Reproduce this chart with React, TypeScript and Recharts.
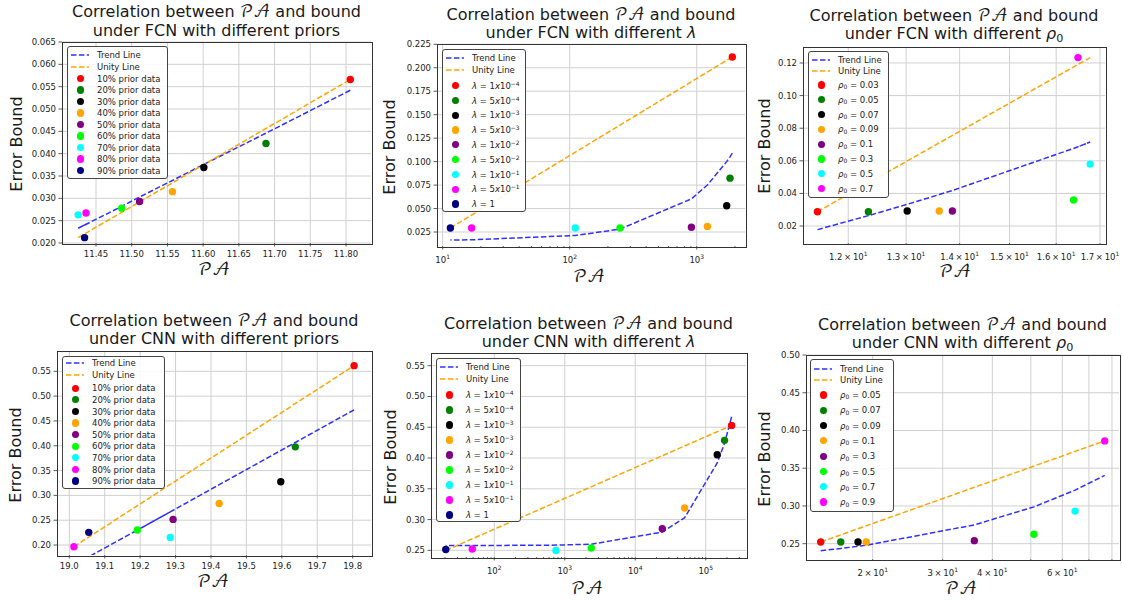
import React from "react";
import { CartesianGrid, ComposedChart, Line, Scatter, XAxis, YAxis } from "recharts";

const FONT = "'DejaVu Sans', Verdana, sans-serif";
const MATH = "'DejaVu Math TeX Gyre', 'DejaVu Serif', serif";
const INK = "#222";

const MARKER_COLORS = ["#ff0000", "#008000", "#000000", "#ffa500", "#800080", "#00ff00", "#00ffff", "#ff00ff", "#000080"];
const TREND_COLOR = "#3030ff";
const UNITY_COLOR = "#ffa500";

// legend categories
const PRIORS = [10, 20, 30, 40, 50, 60, 70, 80, 90];
const LAMBDA_MANT = [1, 5, 1, 5, 1, 5, 1, 5, 1];
const LAMBDA_EXP = [-4, -4, -3, -3, -2, -2, -1, -1, 0];
const RHO_FCN = ["0.03", "0.05", "0.07", "0.09", "0.1", "0.3", "0.5", "0.7"];
const RHO_CNN = ["0.05", "0.07", "0.09", "0.1", "0.3", "0.5", "0.7", "0.9"];

// FCN, different priors
const FCN_PRIOR_PA = [11.806, 11.688, 11.601, 11.557, 11.511, 11.486, 11.425, 11.436, 11.434];
const FCN_PRIOR_BOUND = [0.0566, 0.0423, 0.0369, 0.0315, 0.0293, 0.0278, 0.0263, 0.0267, 0.0212];
const FCN_PRIOR_TREND = [0.0542, 0.0446, 0.0376, 0.034, 0.0303, 0.0282, 0.0233, 0.0242, 0.024];

// FCN, different lambda
const FCN_LAMBDA_PA = [1906, 1828, 1722, 1213, 908, 249, 110.7, 16.9, 11.5];
const FCN_LAMBDA_BOUND = [0.2115, 0.0824, 0.053, 0.031, 0.03, 0.0293, 0.0293, 0.0293, 0.0293];
const FCN_LAMBDA_TREND = [0.109, 0.1051, 0.1, 0.0751, 0.0603, 0.0281, 0.0213, 0.0167, 0.0165];

// FCN, different rho0
const FCN_RHO_PA = [11.5, 12.34, 13.02, 13.61, 13.86, 16.39, 16.77, 16.49];
const FCN_RHO_BOUND = [0.0288, 0.0288, 0.0292, 0.0292, 0.0292, 0.036, 0.058, 0.1233];
const FCN_RHO_TREND = [0.0178, 0.0264, 0.0333, 0.0393, 0.0418, 0.0676, 0.0715, 0.0686];

// CNN, different priors
const CNN_PRIOR_PA = [19.804, 19.638, 19.597, 19.423, 19.293, 19.192, 19.285, 19.013, 19.055];
const CNN_PRIOR_BOUND = [0.5614, 0.3978, 0.3274, 0.2838, 0.2516, 0.2302, 0.2154, 0.1966, 0.2255];
const CNN_PRIOR_TREND = [0.4724, 0.4066, 0.3904, 0.3215, 0.27, 0.23, 0.2668, 0.1597, 0.1763];

// CNN, different lambda
const CNN_LAMBDA_PA = [233000, 185000, 145600, 50200, 24200, 2377, 750, 48.8, 20.5];
const CNN_LAMBDA_BOUND = [0.453, 0.4287, 0.4054, 0.3187, 0.2851, 0.2537, 0.2499, 0.2521, 0.2515];
const CNN_LAMBDA_TREND = [0.467, 0.424, 0.392, 0.303, 0.2797, 0.26, 0.2585, 0.2578, 0.2578];

// CNN, different rho0
const CNN_RHO_PA = [14.8, 16.62, 18.37, 19.27, 36.04, 50.9, 64.6, 76.7];
const CNN_RHO_BOUND = [0.2522, 0.2522, 0.2522, 0.2522, 0.254, 0.2624, 0.2932, 0.3862];
const CNN_RHO_TREND = [0.2407, 0.2436, 0.2465, 0.2479, 0.2749, 0.2988, 0.3209, 0.3404];

// ticks
const TICKS_FCN_PRIOR_X = [11.45, 11.5, 11.55, 11.6, 11.65, 11.7, 11.75, 11.8];
const TICKS_FCN_PRIOR_Y = [0.02, 0.025, 0.03, 0.035, 0.04, 0.045, 0.05, 0.055, 0.06, 0.065];
const TICKS_FCN_LAMBDA_X = [10, 20, 30, 40, 50, 60, 70, 80, 90, 100, 200, 300, 400, 500, 600, 700, 800, 900, 1000, 2000];
const TICKS_FCN_LAMBDA_Y = [0.025, 0.05, 0.075, 0.1, 0.125, 0.15, 0.175, 0.2, 0.225];
const TICKS_FCN_RHO_X = [12, 13, 14, 15, 16, 17];
const TICKS_FCN_RHO_Y = [0.02, 0.04, 0.06, 0.08, 0.1, 0.12];
const TICKS_CNN_PRIOR_X = [19.0, 19.1, 19.2, 19.3, 19.4, 19.5, 19.6, 19.7, 19.8];
const TICKS_CNN_PRIOR_Y = [0.2, 0.25, 0.3, 0.35, 0.4, 0.45, 0.5, 0.55];
const TICKS_CNN_LAMBDA_X = [
  20, 30, 40, 50, 60, 70, 80, 90, 100, 200, 300, 400, 500, 600, 700, 800, 900, 1000, 2000, 3000, 4000, 5000,
  6000, 7000, 8000, 9000, 10000, 20000, 30000, 40000, 50000, 60000, 70000, 80000, 90000, 100000, 200000, 300000,
];
const TICKS_CNN_LAMBDA_Y = [0.25, 0.3, 0.35, 0.4, 0.45, 0.5, 0.55];
const TICKS_CNN_RHO_X = [20, 30, 40, 50, 60, 70, 80];
const TICKS_CNN_RHO_Y = [0.25, 0.3, 0.35, 0.4, 0.45, 0.5];

type Lab = { base: string; sup?: string; len: number } | null;

const isDecade = (v: number) => Math.abs(Math.log10(v) - Math.round(Math.log10(v))) < 1e-9;
const decadeLabel = (v: number): Lab =>
  isDecade(v) ? { base: "10", sup: String(Math.round(Math.log10(v))), len: 3.5 } : null;
const fixed = (d: number) => (v: number): Lab => ({ base: v.toFixed(d), len: 3.5 });
const sciLabel = (shown: number[]) => (v: number): Lab =>
  shown.includes(v)
    ? { base: `${v % 10 === 0 ? v / 10 : (v / 10).toFixed(1)}\u2009×\u200910`, sup: "1", len: 2 }
    : null;

const Sup = ({ children }: { children: React.ReactNode }) => (
  <span style={{ fontSize: "0.7em", position: "relative", top: "-0.5em" }}>{children}</span>
);
const Sub = ({ children }: { children: React.ReactNode }) => (
  <span style={{ fontSize: "0.7em", position: "relative", top: "0.25em" }}>{children}</span>
);
const PA = () => <span style={{ fontFamily: MATH }}>𝒫𝒜</span>;
const Lam = () => <i>λ</i>;
const Rho = () => (
  <>
    <i>ρ</i>
    <Sub>0</Sub>
  </>
);

const priorLabels = PRIORS.map((p) => `${p}% prior data`);
const lambdaLabels = LAMBDA_MANT.map((m, i) =>
  LAMBDA_EXP[i] === 0 ? (
    <>
      <Lam /> = 1
    </>
  ) : (
    <>
      <Lam /> = {m}
      <i>x</i>10<Sup>−{-LAMBDA_EXP[i]}</Sup>
    </>
  )
);
const rhoLabels = (vals: string[]) =>
  vals.map((v) => (
    <>
      <Rho /> = {v}
    </>
  ));

type PanelDef = {
  plot: [number, number, number, number];
  titleTop: number;
  line2: React.ReactNode;
  yLabel: [number, number];
  xLabel: [number, number];
  log: boolean;
  xDomain: [number, number];
  yDomain: [number, number];
  xTicks: number[];
  xFmt: (v: number) => Lab;
  gridX: number[];
  yTicks: number[];
  yDigits: number;
  pa: number[];
  bound: number[];
  trend: number[];
  labels: React.ReactNode[];
  legend: { box: [number, number, number, number]; lineRows: [number, number]; first: number; step: number };
};

const PANELS: PanelDef[] = [
  {
    plot: [62, 42, 309, 201],
    titleTop: 3,
    line2: "under FCN with different priors",
    yLabel: [15.7, 144],
    xLabel: [214, 271],
    log: false,
    xDomain: [11.4024, 11.835],
    yDomain: [0.02, 0.065],
    xTicks: TICKS_FCN_PRIOR_X,
    xFmt: fixed(2),
    gridX: TICKS_FCN_PRIOR_X,
    yTicks: TICKS_FCN_PRIOR_Y,
    yDigits: 3,
    pa: FCN_PRIOR_PA,
    bound: FCN_PRIOR_BOUND,
    trend: FCN_PRIOR_TREND,
    labels: priorLabels,
    legend: { box: [67, 46, 101, 133], lineRows: [7.6, 19.6], first: 31.6, step: 11.5 },
  },
  {
    plot: [437, 44, 308, 202],
    titleTop: 5.8,
    line2: (
      <>
        under FCN with different <Lam />
      </>
    ),
    yLabel: [389, 146.7],
    xLabel: [589, 278],
    log: true,
    xDomain: [9.02, 2399],
    yDomain: [0.0101, 0.2253],
    xTicks: TICKS_FCN_LAMBDA_X,
    xFmt: decadeLabel,
    gridX: TICKS_FCN_LAMBDA_X.filter(isDecade),
    yTicks: TICKS_FCN_LAMBDA_Y,
    yDigits: 3,
    pa: FCN_LAMBDA_PA,
    bound: FCN_LAMBDA_BOUND,
    trend: FCN_LAMBDA_TREND,
    labels: lambdaLabels,
    legend: { box: [442, 49, 84, 162.5], lineRows: [7.7, 20.3], first: 35.7, step: 14.8 },
  },
  {
    plot: [803, 47, 302, 196],
    titleTop: 6.5,
    line2: (
      <>
        under FCN with different <Rho />
      </>
    ),
    yLabel: [763.7, 145.7],
    xLabel: [955, 273],
    log: true,
    xDomain: [11.272, 17.118],
    yDomain: [0.0096, 0.1298],
    xTicks: TICKS_FCN_RHO_X,
    xFmt: sciLabel(TICKS_FCN_RHO_X),
    gridX: TICKS_FCN_RHO_X,
    yTicks: TICKS_FCN_RHO_Y,
    yDigits: 2,
    pa: FCN_RHO_PA,
    bound: FCN_RHO_BOUND,
    trend: FCN_RHO_TREND,
    labels: rhoLabels(RHO_FCN),
    legend: { box: [808, 51, 81, 147], lineRows: [8, 19], first: 33, step: 14.8 },
  },
  {
    plot: [57, 351, 314, 204],
    titleTop: 311.5,
    line2: "under CNN with different priors",
    yLabel: [15, 455],
    xLabel: [213, 583],
    log: false,
    xDomain: [18.9653, 19.8517],
    yDomain: [0.1799, 0.5909],
    xTicks: TICKS_CNN_PRIOR_X,
    xFmt: fixed(1),
    gridX: TICKS_CNN_PRIOR_X,
    yTicks: TICKS_CNN_PRIOR_Y,
    yDigits: 2,
    pa: CNN_PRIOR_PA,
    bound: CNN_PRIOR_BOUND,
    trend: CNN_PRIOR_TREND,
    labels: priorLabels,
    legend: { box: [62, 356, 103, 133], lineRows: [6.3, 18.3], first: 31.3, step: 11.6 },
  },
  {
    plot: [431, 353, 315, 204],
    titleTop: 314.8,
    line2: (
      <>
        under CNN with different <Lam />
      </>
    ),
    yLabel: [389.7, 456.7],
    xLabel: [587, 590],
    log: true,
    xDomain: [12.65, 372800],
    yDomain: [0.2392, 0.5706],
    xTicks: TICKS_CNN_LAMBDA_X,
    xFmt: decadeLabel,
    gridX: TICKS_CNN_LAMBDA_X.filter(isDecade),
    yTicks: TICKS_CNN_LAMBDA_Y,
    yDigits: 2,
    pa: CNN_LAMBDA_PA,
    bound: CNN_LAMBDA_BOUND,
    trend: CNN_LAMBDA_TREND,
    labels: lambdaLabels,
    legend: { box: [436, 358, 85, 163.5], lineRows: [7.7, 20.3], first: 36, step: 15 },
  },
  {
    plot: [806, 355, 313, 204],
    titleTop: 315.8,
    line2: (
      <>
        under CNN with different <Rho />
      </>
    ),
    yLabel: [764, 459.3],
    xLabel: [961, 590],
    log: true,
    xDomain: [13.59, 83.33],
    yDomain: [0.2297, 0.5],
    xTicks: TICKS_CNN_RHO_X,
    xFmt: sciLabel([20, 30, 40, 60]),
    gridX: TICKS_CNN_RHO_X,
    yTicks: TICKS_CNN_RHO_Y,
    yDigits: 2,
    pa: CNN_RHO_PA,
    bound: CNN_RHO_BOUND,
    trend: CNN_RHO_TREND,
    labels: rhoLabels(RHO_CNN),
    legend: { box: [810, 359, 84, 152.5], lineRows: [8.7, 20.3], first: 35, step: 15.3 },
  },
];

const XTick = ({ x, y, payload, fmt }: any) => {
  const lab: Lab = fmt(payload.value);
  const len = lab ? lab.len : 2;
  return (
    <g>
      <line x1={x} x2={x} y1={y} y2={y + len} stroke="#333" strokeWidth={0.8} />
      {lab && (
        <text x={x} y={y + (lab.sup ? 16.5 : 13.5)} textAnchor="middle" fontSize={8.5} fill={INK} fontFamily={FONT}>
          {lab.base}
          {lab.sup && (
            <tspan dy={-4} fontSize={6}>
              {lab.sup}
            </tspan>
          )}
        </text>
      )}
    </g>
  );
};

const YTick = ({ x, y, payload, digits }: any) => (
  <g>
    <line x1={x - 3.5} x2={x} y1={y} y2={y} stroke="#333" strokeWidth={0.8} />
    <text x={x - 6} y={y + 3} textAnchor="end" fontSize={8.5} fill={INK} fontFamily={FONT}>
      {payload.value.toFixed(digits)}
    </text>
  </g>
);

const Dot = (color: string) => (props: any) =>
  props.cx == null ? <g /> : <circle cx={props.cx} cy={props.cy} r={3.7} fill={color} />;

function Panel({ p }: { p: PanelDef }) {
  const [L, T, W, H] = p.plot;
  const ML = 60;
  const MT = 10;
  const MR = 17;
  const MB = 30;
  const points = p.pa.map((x, i) => ({ x, y: p.bound[i] }));
  const trend = p.pa.map((x, i) => ({ x, y: p.trend[i] }));
  const unity = [
    { x: Math.min(...p.pa), y: Math.min(...p.bound) },
    { x: Math.max(...p.pa), y: Math.max(...p.bound) },
  ];
  const lg = p.legend;
  const [bl, bt, bw, bh] = lg.box;
  return (
    <>
      <div style={{ position: "absolute", left: L - ML, top: T - MT }}>
        <ComposedChart width={W + ML + MR} height={H + MT + MB} margin={{ top: MT, right: MR, bottom: 0, left: 0 }}>
          <CartesianGrid stroke="#d0d0d0" strokeWidth={1} verticalValues={p.gridX} horizontalValues={p.yTicks} />
          <XAxis
            type="number"
            dataKey="x"
            scale={p.log ? "log" : "linear"}
            domain={p.xDomain}
            allowDataOverflow
            ticks={p.xTicks}
            interval={0}
            height={MB}
            tickSize={0}
            tickMargin={0}
            axisLine={false}
            tickLine={false}
            tick={(props: any) => <XTick {...props} fmt={p.xFmt} />}
          />
          <YAxis
            type="number"
            dataKey="y"
            domain={p.yDomain}
            allowDataOverflow
            ticks={p.yTicks}
            interval={0}
            width={ML}
            tickSize={0}
            tickMargin={0}
            axisLine={false}
            tickLine={false}
            tick={(props: any) => <YTick {...props} digits={p.yDigits} />}
          />
          <Line
            data={trend}
            dataKey="y"
            stroke={TREND_COLOR}
            strokeWidth={1.5}
            strokeDasharray="5.5 2.4"
            dot={false}
            activeDot={false}
            isAnimationActive={false}
          />
          <Line
            data={unity}
            dataKey="y"
            stroke={UNITY_COLOR}
            strokeWidth={1.5}
            strokeDasharray="5.5 2.4"
            dot={false}
            activeDot={false}
            isAnimationActive={false}
          />
          {points.map((pt, i) => (
            <Scatter
              key={i}
              data={[pt]}
              dataKey="y"
              fill={MARKER_COLORS[i]}
              shape={Dot(MARKER_COLORS[i])}
              isAnimationActive={false}
            />
          ))}
        </ComposedChart>
      </div>
      {/* axes frame */}
      <div
        style={{
          position: "absolute",
          left: L - 0.5,
          top: T - 0.5,
          width: W,
          height: H,
          border: "1px solid #333",
          pointerEvents: "none",
        }}
      />
      {/* title */}
      <div
        style={{
          position: "absolute",
          left: L + W / 2 - 200,
          top: p.titleTop,
          width: 400,
          textAlign: "center",
          fontFamily: FONT,
          fontSize: 16,
          lineHeight: "18.6px",
          color: "#1a1a1a",
          whiteSpace: "nowrap",
        }}
      >
        <div>
          Correlation between <PA /> and bound
        </div>
        <div>{p.line2}</div>
      </div>
      {/* y label */}
      <div
        style={{
          position: "absolute",
          left: p.yLabel[0],
          top: p.yLabel[1],
          transform: "translate(-50%, -50%) rotate(-90deg)",
          fontFamily: FONT,
          fontSize: 16,
          color: "#1a1a1a",
          whiteSpace: "nowrap",
        }}
      >
        Error Bound
      </div>
      {/* x label */}
      <div
        style={{
          position: "absolute",
          left: p.xLabel[0],
          top: p.xLabel[1],
          transform: "translate(-50%, -50%)",
          fontFamily: MATH,
          fontSize: 17,
          color: "#1a1a1a",
          whiteSpace: "nowrap",
        }}
      >
        𝒫𝒜
      </div>
      {/* legend */}
      <div
        style={{
          position: "absolute",
          left: bl,
          top: bt,
          width: bw,
          height: bh,
          boxSizing: "border-box",
          border: "1px solid #444",
          borderRadius: 3,
          background: "rgba(255,255,255,0.88)",
          fontFamily: FONT,
          fontSize: 8.5,
          color: INK,
        }}
      >
        {[
          { label: "Trend Line", color: TREND_COLOR },
          { label: "Unity Line", color: UNITY_COLOR },
        ].map((r, i) => (
          <div key={r.label} style={{ position: "absolute", left: 0, top: lg.lineRows[i] - 6, height: 12, width: bw }}>
            <svg width={22} height={12} style={{ position: "absolute", left: 2, top: 0 }}>
              <line x1={1} x2={19} y1={6} y2={6} stroke={r.color} strokeWidth={1.5} strokeDasharray="5.5 2.4" />
            </svg>
            <span style={{ position: "absolute", left: 29, top: 0, lineHeight: "12px", whiteSpace: "nowrap" }}>
              {r.label}
            </span>
          </div>
        ))}
        {p.labels.map((lab, i) => (
          <div
            key={i}
            style={{ position: "absolute", left: 0, top: lg.first + i * lg.step - 6, height: 12, width: bw }}
          >
            <span
              style={{
                position: "absolute",
                left: 8.5,
                top: 2.4,
                width: 7.2,
                height: 7.2,
                borderRadius: "50%",
                background: MARKER_COLORS[i],
              }}
            />
            <span style={{ position: "absolute", left: 29, top: 0, lineHeight: "12px", whiteSpace: "nowrap" }}>
              {lab}
            </span>
          </div>
        ))}
      </div>
    </>
  );
}

export default function App() {
  return (
    <div style={{ position: "absolute", left: 0, top: 0, width: 1122, height: 601, background: "#fff", overflow: "hidden" }}>
      {PANELS.map((p, i) => (
        <Panel key={i} p={p} />
      ))}
    </div>
  );
}
